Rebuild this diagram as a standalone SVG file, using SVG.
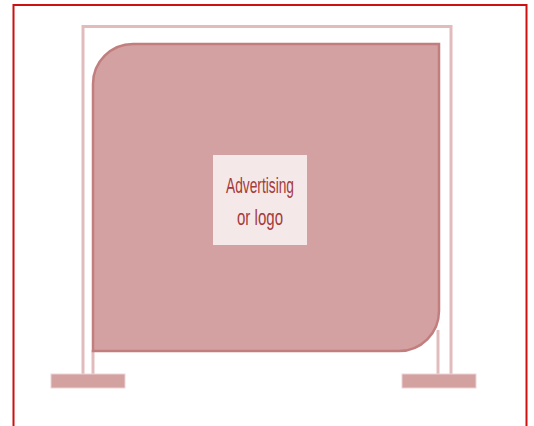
<svg xmlns="http://www.w3.org/2000/svg" width="534" height="426" viewBox="0 0 534 426">
<style>
.frame{fill:none;stroke:#e2bcbc;stroke-width:3}
.post{stroke:#e2bcbc;stroke-width:3}
.foot{fill:#d4a1a1;stroke:#ecd3d3;stroke-width:1}
.banner{fill:#d3a1a1;stroke:#c27e7e;stroke-width:2.5}
.lbl{font-family:"Liberation Sans",Arial,sans-serif;font-size:22px;fill:#a53a3a;text-anchor:middle}
</style>
<rect x="0" y="0" width="534" height="426" fill="#ffffff"/>
<rect id="border" x="13.5" y="5" width="513" height="430" fill="none" stroke="#cc1111" stroke-width="2"/>
<g id="frame">
<path class="frame" d="M83 374 V26.5 H451 V374"/>
<line class="post" x1="93" y1="350" x2="93" y2="374"/>
<line class="post" x1="438" y1="330" x2="438" y2="374"/>
</g>
<g id="banner">
<path class="banner" d="M133 44 H439 V311 A40 40 0 0 1 399 351 H93 V84 A40 40 0 0 1 133 44 Z"/>
</g>
<g id="feet">
<rect class="foot" x="51" y="374" width="74" height="14"/>
<rect class="foot" x="402" y="374" width="74" height="14"/>
</g>
<g id="label">
<rect x="213" y="155" width="94" height="90" fill="#f5e8e8"/>
<text class="lbl" x="260" y="193" textLength="68" lengthAdjust="spacingAndGlyphs">Advertising</text>
<text class="lbl" x="260" y="225" textLength="46" lengthAdjust="spacingAndGlyphs">or logo</text>
</g>
</svg>
